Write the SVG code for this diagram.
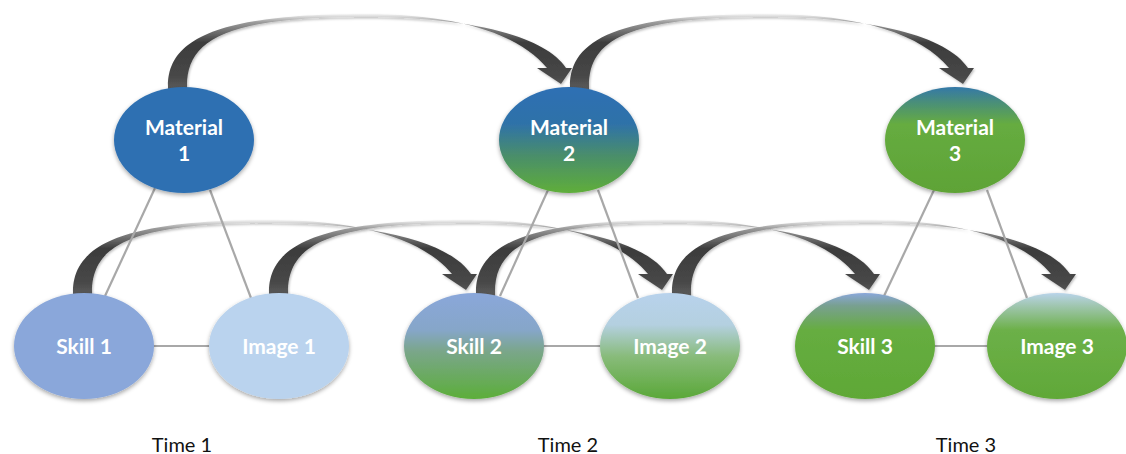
<svg xmlns="http://www.w3.org/2000/svg" xmlns:xlink="http://www.w3.org/1999/xlink" width="1126" height="454" viewBox="0 0 1126 454">
  <style>
    .link { stroke: #a8a8a8; stroke-width: 2.2; fill: none; }
    .node { filter: url(#soft); }
    .lbl { font-family: Lato, "Open Sans", sans-serif; font-weight: 700; font-size: 21px; fill: #ffffff; text-anchor: middle; }
    .time { font-family: Lato, "Open Sans", sans-serif; font-size: 20px; fill: #111111; text-anchor: middle; }
    .arc { fill: url(#arcFill); filter: url(#arcShade); }
  </style>
  <defs>
    <filter id="soft" x="-20%" y="-20%" width="140%" height="150%">
      <feDropShadow dx="0" dy="2" stdDeviation="2" flood-color="#000" flood-opacity="0.35"/>
    </filter>
    <filter id="arcShade" x="-10%" y="-20%" width="120%" height="150%">
      <feDropShadow dx="1" dy="1.5" stdDeviation="1.2" flood-color="#000" flood-opacity="0.25"/>
    </filter>
    <linearGradient id="arcFill" x1="0" y1="0" x2="0" y2="1">
      <stop offset="0" stop-color="#f4f4f4"/>
      <stop offset="0.1" stop-color="#9c9c9c"/>
      <stop offset="0.35" stop-color="#3c3c3c"/>
      <stop offset="0.75" stop-color="#474747"/>
      <stop offset="1" stop-color="#666666"/>
    </linearGradient>
    <linearGradient id="gM2" x1="0" y1="0" x2="0" y2="1">
      <stop offset="0" stop-color="#2d6fb4"/>
      <stop offset="0.35" stop-color="#2f72a8"/>
      <stop offset="0.65" stop-color="#4a8e6a"/>
      <stop offset="1" stop-color="#5fae3a"/>
    </linearGradient>
    <linearGradient id="gM3" x1="0" y1="0" x2="0" y2="1">
      <stop offset="0" stop-color="#3478a8"/>
      <stop offset="0.15" stop-color="#4a8f78"/>
      <stop offset="0.35" stop-color="#66ac40"/>
      <stop offset="1" stop-color="#5ea336"/>
    </linearGradient>
    <linearGradient id="gS2" x1="0" y1="0" x2="0" y2="1">
      <stop offset="0" stop-color="#8aa7da"/>
      <stop offset="0.35" stop-color="#86a6c9"/>
      <stop offset="0.55" stop-color="#7aa68a"/>
      <stop offset="1" stop-color="#5cae3a"/>
    </linearGradient>
    <linearGradient id="gI2" x1="0" y1="0" x2="0" y2="1">
      <stop offset="0" stop-color="#b8d2ec"/>
      <stop offset="0.3" stop-color="#b4d0e0"/>
      <stop offset="0.6" stop-color="#88bb7a"/>
      <stop offset="1" stop-color="#5aa838"/>
    </linearGradient>
    <linearGradient id="gS3" x1="0" y1="0" x2="0" y2="1">
      <stop offset="0" stop-color="#8aa7da"/>
      <stop offset="0.12" stop-color="#78a090"/>
      <stop offset="0.35" stop-color="#66ad40"/>
      <stop offset="1" stop-color="#5fa836"/>
    </linearGradient>
    <linearGradient id="gI3" x1="0" y1="0" x2="0" y2="1">
      <stop offset="0" stop-color="#b9d4ea"/>
      <stop offset="0.12" stop-color="#a0c6b0"/>
      <stop offset="0.35" stop-color="#6cb048"/>
      <stop offset="1" stop-color="#60a838"/>
    </linearGradient>
    <!-- curved block arrow, base at origin, pointing down-right -->
    <path id="curvedArrow" d="M0,10 L0,0 C0,-46 47,-72 197,-72 C292,-72 352,-51 379,-18 L369,-18 L393,-2 L404,-18 L398,-18 C377,-50 302,-69 197,-69 C57,-69 19,-46 19,0 L19,10 Z"/>
  </defs>

  <rect width="1126" height="454" fill="#ffffff"/>

  <g id="connectors">
    <!-- time-to-time arrows -->
    <use xlink:href="#curvedArrow" class="arc" transform="translate(168,86)"/>
    <use xlink:href="#curvedArrow" class="arc" transform="translate(570,86)"/>
    <use xlink:href="#curvedArrow" class="arc" transform="translate(73,292)"/>
    <use xlink:href="#curvedArrow" class="arc" transform="translate(269,292)"/>
    <use xlink:href="#curvedArrow" class="arc" transform="translate(476,292)"/>
    <use xlink:href="#curvedArrow" class="arc" transform="translate(672,292)"/>
    <!-- within-time links -->
    <line class="link" x1="155" y1="188" x2="105" y2="296"/>
    <line class="link" x1="210" y1="190" x2="251" y2="298"/>
    <line class="link" x1="548" y1="190" x2="500" y2="296"/>
    <line class="link" x1="598" y1="190" x2="638" y2="298"/>
    <line class="link" x1="934" y1="190" x2="884" y2="296"/>
    <line class="link" x1="987" y1="190" x2="1027" y2="298"/>
    <line class="link" x1="150" y1="346" x2="212" y2="346"/>
    <line class="link" x1="540" y1="346" x2="603" y2="346"/>
    <line class="link" x1="930" y1="346" x2="990" y2="346"/>
  </g>

  <g id="material1">
    <ellipse class="node" cx="184" cy="140" rx="70" ry="53" fill="#2e70b2"/>
    <text class="lbl" x="184" y="135">Material</text>
    <text class="lbl" x="184" y="161">1</text>
  </g>
  <g id="material2">
    <ellipse class="node" cx="569" cy="140" rx="70" ry="53" fill="url(#gM2)"/>
    <text class="lbl" x="569" y="135">Material</text>
    <text class="lbl" x="569" y="161">2</text>
  </g>
  <g id="material3">
    <ellipse class="node" cx="955" cy="140" rx="70" ry="53" fill="url(#gM3)"/>
    <text class="lbl" x="955" y="135">Material</text>
    <text class="lbl" x="955" y="161">3</text>
  </g>

  <g id="skill1">
    <ellipse class="node" cx="84" cy="346" rx="70" ry="53" fill="#8aa7da"/>
    <text class="lbl" x="84" y="354">Skill 1</text>
  </g>
  <g id="image1">
    <ellipse class="node" cx="279" cy="346" rx="70" ry="53" fill="#bad3ee"/>
    <text class="lbl" x="279" y="354">Image 1</text>
  </g>
  <g id="skill2">
    <ellipse class="node" cx="474" cy="346" rx="70" ry="53" fill="url(#gS2)"/>
    <text class="lbl" x="474" y="354">Skill 2</text>
  </g>
  <g id="image2">
    <ellipse class="node" cx="670" cy="346" rx="70" ry="53" fill="url(#gI2)"/>
    <text class="lbl" x="670" y="354">Image 2</text>
  </g>
  <g id="skill3">
    <ellipse class="node" cx="865" cy="346" rx="70" ry="53" fill="url(#gS3)"/>
    <text class="lbl" x="865" y="354">Skill 3</text>
  </g>
  <g id="image3">
    <ellipse class="node" cx="1057" cy="346" rx="70" ry="53" fill="url(#gI3)"/>
    <text class="lbl" x="1057" y="354">Image 3</text>
  </g>

  <g id="timeLabels">
    <text class="time" x="182" y="452">Time 1</text>
    <text class="time" x="568" y="452">Time 2</text>
    <text class="time" x="966" y="452">Time 3</text>
  </g>
</svg>
